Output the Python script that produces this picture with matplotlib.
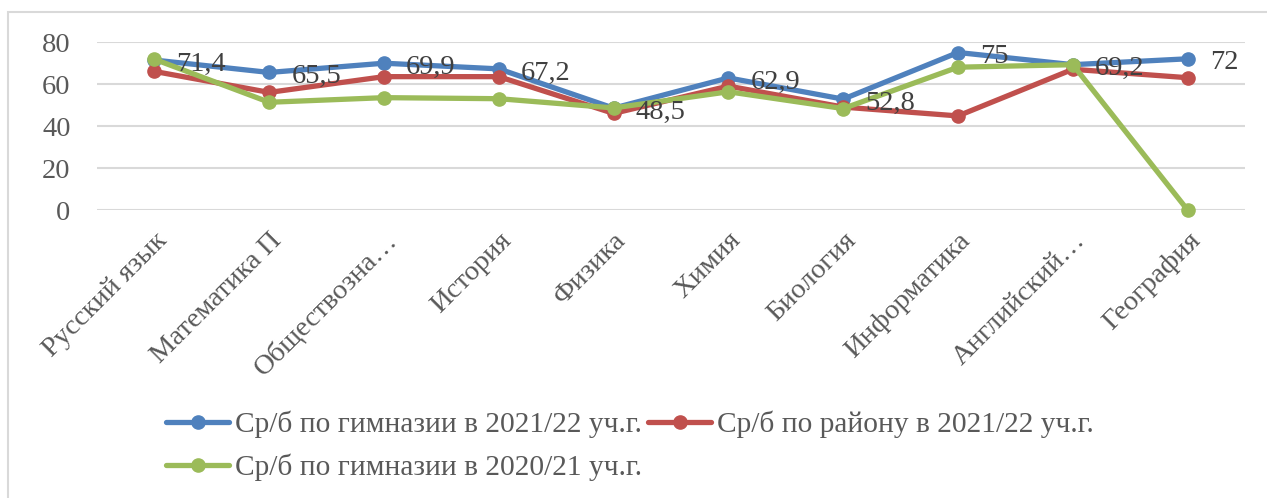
import matplotlib
matplotlib.use("Agg")
import matplotlib.pyplot as plt
from matplotlib.patches import Rectangle
from matplotlib.transforms import ScaledTranslation

categories = ["Русский язык", "Математика П", "Обществозна…", "История", "Физика",
              "Химия", "Биология", "Информатика", "Английский…", "География"]
gym_2122 = [71.4, 65.5, 69.9, 67.2, 48.5, 62.9, 52.8, 75, 69.2, 72]
district_2122 = [66, 56, 63.5, 63.5, 46, 59, 49, 44.8, 67, 63]
gym_2021 = [71.8, 51.3, 53.5, 53, 48.6, 56.3, 48.3, 68, 69.2, 0]
series_names = ["Ср/б по гимназии в 2021/22 уч.г.",
                "Ср/б по району в 2021/22 уч.г.",
                "Ср/б по гимназии в 2020/21 уч.г."]
data_labels = ["71,4", "65,5", "69,9", "67,2", "48,5", "62,9", "52,8", "75", "69,2", "72"]
yticks = [0, 20, 40, 60, 80]

plt.rcParams['font.family'] = ['Liberation Serif', 'DejaVu Serif']
FS = 20.5
LFS = 21.2

W, H = 1267, 498
fig = plt.figure(figsize=(W/100, H/100), dpi=100)
fig.patches.append(Rectangle((8/W, -0.1), 1.2, 1 - 12/H + 0.1, transform=fig.transFigure,
                             facecolor='white', edgecolor='#D9D9D9', linewidth=1.5, zorder=-1))

ax = fig.add_axes([97/W, 1 - 210/H, (1245-97)/W, (210-42)/H])
x = list(range(len(categories)))
colors = ['#4F81BD', '#C0504D', '#9BBB59']
lines = []
for vals, c, n in zip([gym_2122, district_2122, gym_2021], colors, series_names):
    l, = ax.plot(x, vals, color=c, lw=3.8, marker='o', ms=9.5, label=n,
                 solid_capstyle='round', solid_joinstyle='round', zorder=3, clip_on=False)
    lines.append(l)

for xi, v, t in zip(x, gym_2122, data_labels):
    ax.annotate(t, (xi, v), xytext=(16, -3), textcoords='offset points', ha='left', va='center',
                fontsize=FS, color='#404040', zorder=4)

ax.set_xlim(-0.5, len(categories) - 0.5)
ax.set_ylim(0, 80)
ax.set_yticks(yticks)
ax.grid(axis='y', color='#D9D9D9', lw=1.5)
ax.set_axisbelow(True)
for s in ax.spines.values():
    s.set_visible(False)
ax.tick_params(axis='both', length=0, labelsize=FS, labelcolor='#595959')
ax.tick_params(axis='y', pad=19)
ax.set_xticks(x)
ax.set_xticklabels(categories, rotation=45, ha='right', va='top', rotation_mode='anchor')
for lbl in ax.get_xticklabels():
    lbl.set_transform(lbl.get_transform() + ScaledTranslation(0.0, -0.13, fig.dpi_scale_trans))

leg = fig.legend([lines[0], lines[2], lines[1]], [series_names[0], series_names[2], series_names[1]],
                 ncol=2, loc='center left', bbox_to_anchor=(166/W, 1 - 446/H), frameon=False,
                 fontsize=LFS, labelcolor='#595959', handlelength=2.15, handletextpad=0.2,
                 columnspacing=0.2, labelspacing=0.52, borderaxespad=0, borderpad=0)

fig.savefig("out.png", dpi=100)
